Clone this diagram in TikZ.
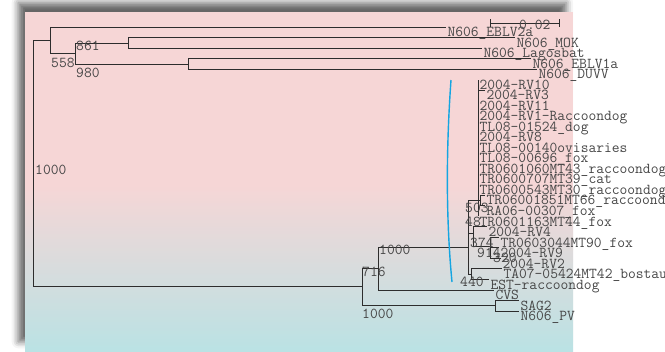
\documentclass[tikz,border=0pt]{standalone}
\usepackage{fontspec}
\definecolor{PanelPink}{RGB}{246,214,214}
\definecolor{PanelGray}{RGB}{222,220,220}
\definecolor{PanelCyan}{RGB}{186,226,228}
\definecolor{BranchColor}{RGB}{45,45,45}
\definecolor{LabelColor}{RGB}{70,70,70}
\definecolor{MarkColor}{RGB}{20,165,225}
\usetikzlibrary{shadows.blur}
\newcommand{\treefont}{\ttfamily\fontsize{12.9}{14}\selectfont}
\tikzset{
  branch/.style={BranchColor, line width=0.85pt},
  leaf label/.style={anchor=base west, inner sep=0pt, text=LabelColor, font=\treefont, xshift=0.04cm, yshift=-0.29cm},
  boot label/.style={anchor=base west, inner sep=0pt, text=LabelColor, font=\treefont},
  mark line/.style={MarkColor, line width=1.2pt}
}
\begin{document}
\begin{tikzpicture}[x=0.03cm, y=-0.03cm]
  \useasboundingbox (0,0) rectangle (665,351);
  % Panel with shadow and gradient
  \fill[PanelPink, blur shadow={shadow xshift=-0.2cm, shadow yshift=0.28cm, shadow blur radius=0.2cm, shadow opacity=60}] (25,12) rectangle (573,351);
  \shade[top color=PanelPink, middle color=PanelGray, bottom color=PanelCyan] (25,185) rectangle (573,351);

  % Internal nodes
  \coordinate (root) at (33,163);
  \coordinate (nTop) at (50,40);
  \coordinate (n558) at (75,53);
  \coordinate (n861) at (128,43);
  \coordinate (n980) at (188,64);
  \coordinate (nRab) at (362,286);
  \coordinate (n716) at (378,268);
  \coordinate (nVac) at (495,305);
  \coordinate (nA) at (468,247);
  \coordinate (nP) at (478,200);
  \coordinate (nT) at (480,200.5);
  \coordinate (nG) at (473,233);
  \coordinate (nH) at (490,246);
  \coordinate (n440) at (471,274);

  % Outgroup lyssaviruses
  \coordinate (tEBLVa) at (446,27);   \node[leaf label] (EBLVa) at (tEBLVa) {N606\_EBLV2a};
  \coordinate (tMOK) at (515,37.5);   \node[leaf label] (MOK) at (tMOK) {N606\_MOK};
  \coordinate (tLagos) at (482,48);   \node[leaf label] (Lagos) at (tLagos) {N606\_Lagosbat};
  \coordinate (tEBLVb) at (531,58.5); \node[leaf label] (EBLVb) at (tEBLVb) {N606\_EBLV1a};
  \coordinate (tDUVV) at (537,69);    \node[leaf label] (DUVV) at (tDUVV) {N606\_DUVV};
  \draw[branch] (root) |- (nTop);
  \draw[branch] (nTop) |- (tEBLVa);
  \draw[branch] (nTop) |- (n558);
  \draw[branch] (n558) |- (n861);
  \draw[branch] (n558) |- (n980);
  \draw[branch] (n861) |- (tMOK);
  \draw[branch] (n861) |- (tLagos);
  \draw[branch] (n980) |- (tEBLVb);
  \draw[branch] (n980) |- (tDUVV);

  % Rabies clade
  \draw[branch] (root) |- (nRab);
  \draw[branch] (nRab) |- (n716);
  \draw[branch] (nRab) |- (nVac);
  \draw[branch] (n716) |- (nA);
  \coordinate (tCVS) at (494,290);    \node[leaf label] (CVS) at (tCVS) {CVS};
  \coordinate (tSAG) at (519,300.5);  \node[leaf label] (SAG) at (tSAG) {SAG2};
  \coordinate (tPV) at (519,311);     \node[leaf label] (PV) at (tPV) {N606\_PV};
  \draw[branch] (n716) |- (tCVS);
  \draw[branch] (nVac) |- (tSAG);
  \draw[branch] (nVac) |- (tPV);

  % Field isolates
  \draw[branch] (nA) |- (nP);
  \draw[branch] (nA) |- (nG);
  \draw[branch] (nA) |- (n440);
  \coordinate (tRVj) at (478,79.6);   \node[leaf label] (RVj) at (tRVj) {2004-RV10};
  \coordinate (tRVc) at (485,90.1);   \node[leaf label] (RVc) at (tRVc) {2004-RV3};
  \coordinate (tRVk) at (478,100.6);  \node[leaf label] (RVk) at (tRVk) {2004-RV11};
  \coordinate (tRVa) at (478,111.2);  \node[leaf label] (RVa) at (tRVa) {2004-RV1-Raccoondog};
  \coordinate (tDog) at (478,121.7);  \node[leaf label] (Dog) at (tDog) {TL08-01524\_dog};
  \coordinate (tRVh) at (478,132.2);  \node[leaf label] (RVh) at (tRVh) {2004-RV8};
  \coordinate (tOvis) at (478,142.7); \node[leaf label] (Ovis) at (tOvis) {TL08-00140ovisaries};
  \coordinate (tFoxa) at (478,153.2); \node[leaf label] (Foxa) at (tFoxa) {TL08-00696\_fox};
  \coordinate (tRacA) at (478,163.8); \node[leaf label] (RacA) at (tRacA) {TR0601060MT43\_raccoondog};
  \coordinate (tCat) at (478,174.3);  \node[leaf label] (Cat) at (tCat) {TR0600707MT39\_cat};
  \coordinate (tRacB) at (478,184.8); \node[leaf label] (RacB) at (tRacB) {TR0600543MT30\_raccoondog};
  \coordinate (tRacC) at (485,195.3); \node[leaf label] (RacC) at (tRacC) {TR06001851MT66\_raccoondog};
  \coordinate (tFoxb) at (485,205.8); \node[leaf label] (Foxb) at (tFoxb) {RA06-00307\_fox};
  \coordinate (tFoxc) at (478,216.4); \node[leaf label] (Foxc) at (tFoxc) {TR0601163MT44\_fox};
  \draw[branch] (nP) |- (tRVj);
  \draw[branch] (nP) |- (tRVc);
  \draw[branch] (nP) |- (tFoxc);
  \draw[branch] (nP) |- (nT);
  \draw[branch] (nT) |- (tRacC);
  \draw[branch] (nT) |- (tFoxb);
  \coordinate (tRVd) at (487,226.9);  \node[leaf label] (RVd) at (tRVd) {2004-RV4};
  \coordinate (tFoxd) at (499,237.4); \node[leaf label] (Foxd) at (tFoxd) {TR0603044MT90\_fox};
  \coordinate (tRVi) at (499,247.9);  \node[leaf label] (RVi) at (tRVi) {2004-RV9};
  \coordinate (tRVb) at (501,258.4);  \node[leaf label] (RVb) at (tRVb) {2004-RV2};
  \coordinate (tBos) at (502,268.9);  \node[leaf label] (Bos) at (tBos) {TA07-05424MT42\_bostaurus};
  \coordinate (tEST) at (489,279.5);  \node[leaf label] (EST) at (tEST) {EST-raccoondog};
  \draw[branch] (nG) |- (tRVd);
  \draw[branch] (nG) |- (nH);
  \draw[branch] (nH) |- (tFoxd);
  \draw[branch] (nH) |- (tRVi);
  \draw[branch] (nH) |- (tRVb);
  \draw[branch] (n440) |- (tBos);
  \draw[branch] (n440) |- (tEST);

  % Bootstrap values
  \node[boot label] (bA) at (51,67) {558};
  \node[boot label] (bB) at (76,50) {861};
  \node[boot label] (bC) at (76,77) {980};
  \node[boot label] (bD) at (35,174) {1000};
  \node[boot label] (bE) at (379,254) {1000};
  \node[boot label] (bF) at (362,276) {716};
  \node[boot label] (bG) at (362,318) {1000};
  \node[boot label] (bH) at (460,286) {440};
  \node[boot label] (bI) at (465,212) {503};
  \node[boot label] (bJ) at (465,226) {48};
  \node[boot label] (bK) at (470,247) {374};
  \node[boot label] (bL) at (477,257) {914};
  \node[boot label] (bM) at (493,262) {320};

  % Scale bar
  \coordinate (sbL) at (490,23);
  \coordinate (sbR) at (560,23);
  \draw[branch, |-|] (sbL) -- (sbR);
  \node[boot label] (sbText) at (519,29) {0.02};

  % Marker line
  \draw[mark line] (451,80) .. controls (446,150) and (446,220) .. (452,282);
\end{tikzpicture}
\end{document}
